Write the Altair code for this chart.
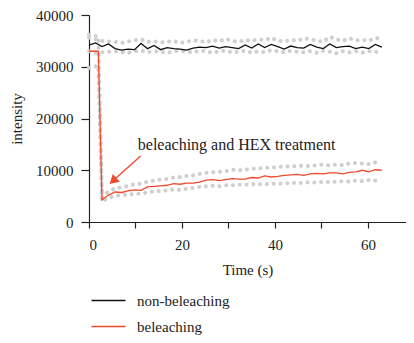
import altair as alt
import pandas as pd

time_black = [0, 1.4, 2.8, 4.2, 5.6, 7.0, 8.4, 9.8, 11.2, 12.6, 14.0, 15.4, 16.8, 18.2, 19.6,
              21.0, 22.4, 23.8, 25.2, 26.6, 28.0, 29.4, 30.8, 32.2, 33.6, 35.0, 36.4, 37.8,
              39.2, 40.6, 42.0, 43.4, 44.8, 46.2, 47.6, 49.0, 50.4, 51.8, 53.2, 54.6, 56.0,
              57.4, 58.8, 60.2, 61.6, 63.0]
time_red = [0, 2.0, 2.8, 4.2, 5.6, 7.0, 8.4, 9.8, 11.2, 12.6, 14.0, 15.4, 16.8, 18.2, 19.6,
            21.0, 22.4, 23.8, 25.2, 26.6, 28.0, 29.4, 30.8, 32.2, 33.6, 35.0, 36.4, 37.8,
            39.2, 40.6, 42.0, 43.4, 44.8, 46.2, 47.6, 49.0, 50.4, 51.8, 53.2, 54.6, 56.0,
            57.4, 58.8, 60.2, 61.6, 63.0]

black_mean = [34200, 34600, 33900, 34400, 33500, 33200, 33400, 33300, 34500, 33500, 34100, 33300,
              33700, 33500, 33400, 33200, 33600, 33800, 33700, 34000, 33600, 33900, 33700, 33500,
              34200, 33600, 34400, 33700, 34300, 33900, 33400, 34000, 33700, 33600, 34300, 33800,
              33500, 34400, 33700, 33900, 34000, 33500, 33800, 33500, 34300, 33800]
black_upper = [35600, 35300, 35000, 34900, 34800, 34600, 34900, 35100, 35300, 34800, 34900, 34700,
               34800, 35000, 34600, 34800, 35100, 35000, 34700, 35200, 34900, 35400, 35000, 34800,
               35200, 35000, 35300, 35100, 35600, 35000, 34900, 35200, 35000, 35500, 35300, 35100,
               34800, 35800, 35300, 35000, 35500, 35100, 35200, 35000, 35600, 35300]
black_lower = [33000, 32700, 32800, 32900, 33000, 32800, 32700, 33000, 33100, 32800, 33000, 32900,
               32700, 33000, 33100, 32900, 32800, 33100, 33000, 32700, 33000, 33100, 32800, 32900,
               33100, 32700, 33000, 32800, 33200, 33000, 32800, 33100, 32900, 32800, 33000, 32700,
               33100, 32900, 32600, 33000, 32800, 33000, 32700, 33000, 32900, 32700]

red_mean = [33000, 33000, 4300, 5200, 5800, 5700, 6000, 6200, 6100, 6800, 6900, 7000, 7100, 7400,
            7300, 7500, 7500, 7700, 8100, 8200, 8000, 8200, 8400, 8300, 8300, 8600, 8500, 8900,
            8700, 8800, 9000, 9100, 9200, 9000, 9300, 9400, 9300, 9500, 9500, 9300, 9600, 9700,
            10000, 9700, 10100, 10000]
red_upper = [36200, 35800, 4800, 5900, 6500, 6700, 7000, 7300, 7400, 7800, 8000, 8200, 8300, 8600,
             8700, 8900, 9000, 9300, 9500, 9600, 9700, 9800, 10100, 10000, 10100, 10300, 10300,
             10500, 10500, 10600, 10800, 10700, 10800, 10900, 10800, 11000, 11100, 10900, 11100,
             11000, 11300, 11400, 11300, 11200, 11500, 11400]
red_lower = [29800, 30200, 3900, 4700, 5000, 5200, 5300, 5400, 5500, 5700, 5900, 6000, 6100, 6300,
             6200, 6400, 6600, 6800, 6900, 7000, 6900, 7100, 7100, 7200, 7200, 7300, 7300, 7300,
             7400, 7400, 7400, 7600, 7500, 7600, 7700, 7600, 7800, 7700, 7800, 7900, 7800, 8000,
             7900, 8100, 8000, 8100]

series_names = ["non-beleaching", "beleaching"]
series_colors = ["#111111", "#f04a2e"]

x_ticks = [0, 10, 20, 30, 40, 50, 60]
y_ticks = [0, 10000, 20000, 30000, 40000]

annotation_text = ["beleaching and HEX treatment"]
annotation_pos = [10.5, 14900]
arrow_from = [11.1, 12750]
arrow_to = [5.4, 8150]

FONT = "Liberation Serif"

rows = []
for t, v in zip(time_black, black_mean):
    rows.append({"series": series_names[0], "t": t, "v": v})
for t, v in zip(time_red, red_mean):
    rows.append({"series": series_names[1], "t": t, "v": v})
means = pd.DataFrame(rows)

brows = []
for name, times, vals in [("bu", time_black, black_upper), ("bl", time_black, black_lower),
                          ("ru", time_red, red_upper), ("rl", time_red, red_lower)]:
    for t, v in zip(times, vals):
        brows.append({"band": name, "t": t, "v": v})
bands = pd.DataFrame(brows)

xscale = alt.Scale(domain=[0, 68.2], nice=False, zero=False)
yscale = alt.Scale(domain=[0, 40000], nice=False)

x_enc = alt.X("t:Q", scale=xscale, title="Time (s)",
              axis=alt.Axis(values=x_ticks,
                            labelExpr="datum.value % 20 == 0 ? datum.label : ''",
                            tickSize=6, labelPadding=9, titlePadding=10, grid=False))
y_enc = alt.Y("v:Q", scale=yscale, title="intensity",
              axis=alt.Axis(values=y_ticks, format="d", tickSize=8, labelPadding=8,
                            titlePadding=11, grid=False))

band_layer = alt.Chart(bands).mark_line(
    color="#cfcfcf", strokeWidth=4, strokeCap="round", strokeDash=[0.1, 6.7]
).encode(x=x_enc, y=y_enc, detail="band:N")

line_layer = alt.Chart(means).mark_line(strokeWidth=1.3).encode(
    x="t:Q", y="v:Q",
    color=alt.Color("series:N",
                    scale=alt.Scale(domain=series_names, range=series_colors),
                    sort=series_names,
                    legend=alt.Legend(title=None, orient="none", legendX=12, legendY=278,
                                      symbolType="M-3.4,0H3.4", symbolSize=100,
                                      symbolStrokeWidth=1.3, labelOffset=21,
                                      labelFont=FONT, labelFontSize=15, labelColor="#222",
                                      rowPadding=10)),
)

arrow_df = pd.DataFrame({"t": [arrow_from[0], arrow_to[0]], "v": [arrow_from[1], arrow_to[1]]})
arrow_line = alt.Chart(arrow_df).mark_line(color="#f04a2e", strokeWidth=1.4).encode(x="t:Q", y="v:Q")
head_df = pd.DataFrame({"t": [arrow_to[0]], "v": [arrow_to[1]]})
arrow_head = alt.Chart(head_df).mark_point(
    shape="triangle", angle=228, size=110, filled=True, color="#f04a2e", opacity=1
).encode(x="t:Q", y="v:Q")

ann_df = pd.DataFrame({"t": [annotation_pos[0]], "v": [annotation_pos[1]], "label": annotation_text})
ann = alt.Chart(ann_df).mark_text(align="left", baseline="middle", font=FONT, fontSize=16,
                                  color="#222").encode(x="t:Q", y="v:Q", text="label:N")

chart = alt.layer(band_layer, line_layer, arrow_line, arrow_head, ann).properties(
    width=317, height=207,
    autosize=alt.AutoSizeParams(type="none"),
    padding={"left": 81, "top": 7, "right": 0, "bottom": 113},
).configure_view(stroke=None).configure_axis(
    domainColor="#222", tickColor="#222", domainWidth=1.2, tickWidth=1.2,
    labelFont=FONT, labelFontSize=15, labelColor="#222",
    titleFont=FONT, titleFontSize=15, titleColor="#222", titleFontWeight="normal",
)

chart.save("out.html", embed_options={"renderer": "svg", "actions": False})
